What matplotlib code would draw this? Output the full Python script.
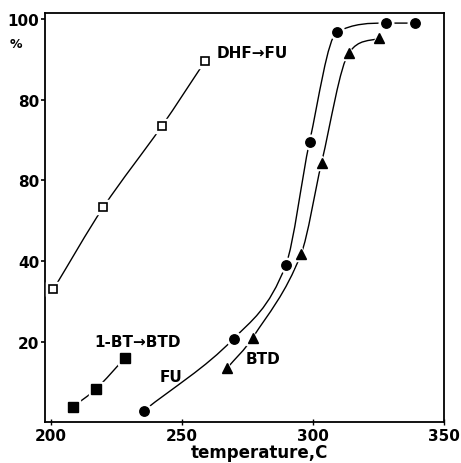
import matplotlib.pyplot as plt
import numpy as np
from matplotlib.path import Path
from matplotlib.patches import PathPatch

# values
dhf_t = [201, 220, 242.4, 258.8]
dhf_y = [33, 53.3, 73.5, 89.5]

bt_t = [208.5, 217.4, 228.3]
bt_y = [3.9, 8.4, 16.0]

fu_t = [235.5, 269.8, 289.7, 298.7, 309.1, 327.9, 339.1]
fu_y = [2.9, 20.8, 39.1, 69.5, 96.7, 99.0, 99.0]

btd_t = [267.3, 277.0, 295.5, 303.3, 313.8, 325.2]
btd_y = [13.5, 21.0, 41.8, 64.4, 91.7, 95.2]

xticks = [200, 250, 300, 350]
yticks = [20, 40, 60, 80, 100]
ytick_labels = ['20', '40', '80', '80', '100']  # as printed in the original


def smooth_path(xs, ys):
    """Smooth curve through the points (three-point tangents, limited
    Fritsch-Carlson style so it does not overshoot), as Bezier segments."""
    x = np.asarray(xs, float)
    y = np.asarray(ys, float)
    h = np.diff(x)
    d = np.diff(y) / h
    m = np.empty_like(x)
    m[0], m[-1] = d[0], d[-1]
    m[1:-1] = (y[2:] - y[:-2]) / (x[2:] - x[:-2])
    for i in range(len(d)):
        if d[i] == 0:
            m[i] = m[i + 1] = 0
            continue
        a, b = m[i] / d[i], m[i + 1] / d[i]
        r = a * a + b * b
        if r > 9:
            t = 3 / np.sqrt(r)
            m[i], m[i + 1] = t * a * d[i], t * b * d[i]
    verts = [(x[0], y[0])]
    codes = [Path.MOVETO]
    for i in range(len(x) - 1):
        verts += [(x[i] + h[i] / 3, y[i] + m[i] * h[i] / 3),
                  (x[i + 1] - h[i] / 3, y[i + 1] - m[i + 1] * h[i] / 3),
                  (x[i + 1], y[i + 1])]
        codes += [Path.CURVE4] * 3
    return Path(verts, codes)


fig = plt.figure(figsize=(4.61, 4.64), dpi=100)
ax = fig.add_axes([0.0976, 0.0873, 0.8655, 0.8825])

for xs, ys in [(dhf_t, dhf_y), (bt_t, bt_y), (fu_t, fu_y), (btd_t, btd_y)]:
    ax.add_patch(PathPatch(smooth_path(xs, ys), facecolor='none',
                           edgecolor='black', lw=1.0, zorder=2))

# white halos so the lines stop short of the markers
halo = dict(linestyle='none', color='white', zorder=3)
ax.plot(dhf_t, dhf_y, marker='s', ms=10, **halo)
ax.plot(bt_t, bt_y, marker='s', ms=10, **halo)
ax.plot(fu_t, fu_y, marker='o', ms=10.5, **halo)
ax.plot(btd_t, btd_y, marker='^', ms=10.5, **halo)

ax.plot(dhf_t, dhf_y, 's', ms=6, mfc='white', mec='black', mew=1.2, zorder=4)
ax.plot(bt_t, bt_y, 's', ms=6.5, color='black', zorder=4)
ax.plot(fu_t, fu_y, 'o', ms=6.8, color='black', zorder=4)
ax.plot(btd_t, btd_y, '^', ms=6.5, color='black', zorder=4)

txt = dict(fontsize=11, family='DejaVu Sans', weight='bold')
ax.text(263.2, 91.6, 'DHF→FU', ha='left', va='center', **txt)
ax.text(216.8, 20.1, '1-BT→BTD', ha='left', va='center', **txt)
ax.text(246, 11.4, 'FU', ha='center', va='center', **txt)
ax.text(281, 15.8, 'BTD', ha='center', va='center', **txt)

ax.set_xlim(197.8, 350)
ax.set_ylim(0, 101.5)
ax.set_xticks(xticks)
ax.set_xticklabels([str(t) for t in xticks], fontsize=11, weight='bold')
ax.set_yticks(yticks)
ax.set_yticklabels(ytick_labels, fontsize=11, weight='bold')
ax.tick_params(axis='y', direction='out', length=3, width=1.2, pad=1)
ax.tick_params(axis='x', direction='inout', length=4, width=1.0, pad=2)
for s in ax.spines.values():
    s.set_linewidth(1.3)

fig.text(16 / 461, 1 - 45 / 464, '%', fontsize=9, weight='bold',
         ha='center', va='center')
fig.text(259 / 461, 1 - 453 / 464, 'temperature,C', fontsize=12,
         weight='bold', ha='center', va='center')

fig.savefig('out.png', dpi=100)
